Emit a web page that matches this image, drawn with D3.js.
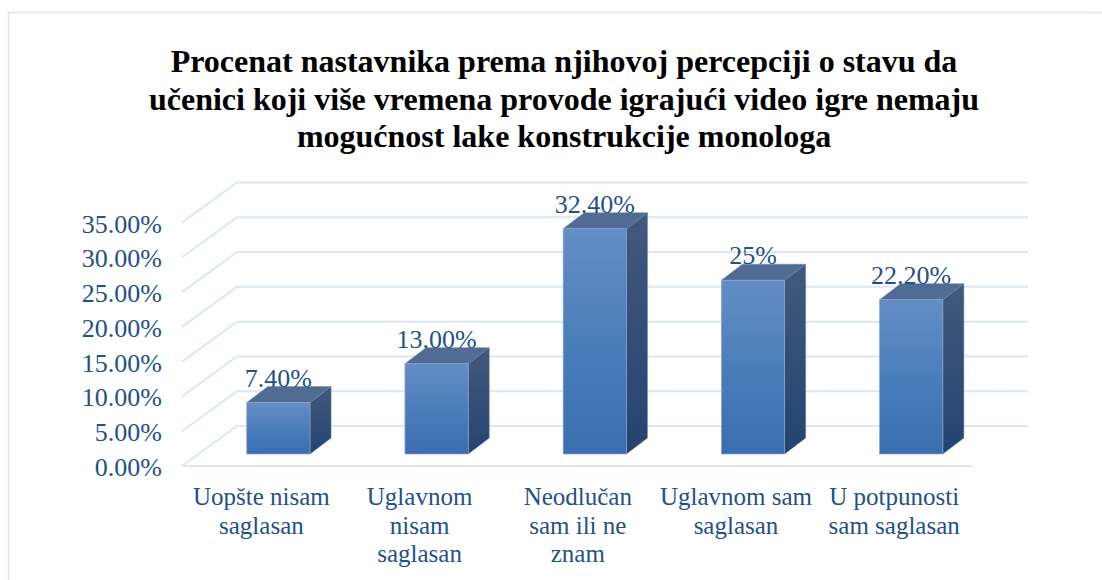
<!DOCTYPE html>
<html><head><meta charset="utf-8">
<script src="https://cdnjs.cloudflare.com/ajax/libs/d3/7.8.5/d3.min.js"></script>
<style>html,body{margin:0;padding:0;background:#fff;overflow:hidden}</style></head>
<body><svg id="c" width="1102" height="580" style="display:block"></svg>
<script>
const titleLines = ["Procenat nastavnika prema njihovoj percepciji o stavu da","učenici koji više vremena provode igrajući video igre nemaju","mogućnost lake konstrukcije monologa"];
const categories = ["Uopšte nisam saglasan","Uglavnom nisam saglasan","Neodlučan sam ili ne znam","Uglavnom sam saglasan","U potpunosti sam saglasan"];
const categoryLines = [["Uopšte nisam","saglasan"],["Uglavnom","nisam","saglasan"],["Neodlučan","sam ili ne","znam"],["Uglavnom sam","saglasan"],["U potpunosti","sam saglasan"]];
const values = [7.4,13,32.4,25,22.2];
const valueLabels = ["7.40%","13.00%","32.40%","25%","22.20%"];
const ticks = [0,5,10,15,20,25,30,35];
const FONT='"Liberation Serif",serif', BLUE='#24508a', GRID='#dce6f4';
const svg=d3.select('#c');
const defs=svg.append('defs');
function grad(id,stops){const g=defs.append('linearGradient').attr('id',id).attr('x1',0).attr('y1',0).attr('x2',0).attr('y2',1);
 stops.forEach(s=>g.append('stop').attr('offset',s[0]).attr('stop-color',s[1]));}
grad('front',[[0,'#658dc6'],[0.5,'#4a7ebb'],[1,'#3a6eb0']]);
grad('side',[[0,'#42597c'],[1,'#234470']]);
// frame
svg.append('path').attr('d','M8.5,580V12.5H1102').attr('fill','none').attr('stroke',GRID).attr('stroke-width',1.5);
// title
svg.append('g').selectAll('text').data(titleLines).join('text')
 .attr('x',564).attr('y',(d,i)=>72+i*37.5).attr('text-anchor','middle')
 .attr('font-family',FONT).attr('font-weight','bold').attr('font-size',32).attr('fill','#000').text(d=>d);
// scales
const gridY=d3.scaleLinear().domain([0,35]).range([466,222.5]);
const barY=d3.scaleLinear().domain([0,35]).range([454,210.7]);
const x=d3.scaleBand().domain(categories).range([199.3,990.3]).paddingInner(0.6).paddingOuter(0.3);
const DX=55,DY=-40,dx=21,dy=-16,FX0=182,FX1=973;
// gridlines
const g=svg.append('g').attr('fill','none').attr('stroke',GRID).attr('stroke-width',2);
ticks.forEach(t=>{const y=gridY(t);
 g.append('path').attr('d',`M${FX0},${y}L${FX0+DX},${y+DY}H${FX1+DX}`);});
g.append('path').attr('d',`M${FX0},${gridY(0)}H${FX1}`);
// y labels via axis
const ax=svg.append('g').attr('transform','translate(162,1.2)').call(d3.axisLeft(gridY).tickValues(ticks).tickSize(0).tickPadding(0).tickFormat(d=>d3.format('.2f')(d)+'%'));
ax.select('.domain').remove();
ax.selectAll('text').attr('font-family',FONT).attr('font-size',26).attr('fill',BLUE);
// bars
const b=svg.append('g').selectAll('g').data(categories).join('g');
const L=(c)=>x(c),R=(c)=>x(c)+x.bandwidth(),base=barY(0);
const topY=(i)=>barY(values[i]);
b.append('path').attr('d',(c,i)=>`M${R(c)},${base}V${topY(i)}l${dx},${dy}V${base+dy}Z`).attr('fill','url(#side)').attr('stroke','#5d7ca6').attr('stroke-width',.5);
b.append('path').attr('d',(c,i)=>`M${L(c)},${topY(i)}H${R(c)}l${dx},${dy}H${L(c)+dx}Z`).attr('fill','#506c93').attr('stroke','#6a86ad').attr('stroke-width',.5);
b.append('rect').attr('x',L).attr('y',(c,i)=>topY(i)).attr('width',x.bandwidth()).attr('height',(c,i)=>base-topY(i)).attr('fill','url(#front)').attr('stroke','#88a6d0').attr('stroke-width',.7);
// value labels
svg.append('g').selectAll('text').data(categories).join('text')
 .attr('x',c=>x(c)+x.bandwidth()/2).attr('y',(c,i)=>topY(i)-16)
 .attr('text-anchor','middle').attr('font-family',FONT).attr('font-size',26).attr('fill',BLUE).text((c,i)=>valueLabels[i]);
// category labels
const cl=svg.append('g').selectAll('text').data(categories).join('text')
 .attr('text-anchor','middle').attr('font-family',FONT).attr('font-size',25).attr('fill',BLUE);
cl.selectAll('tspan').data((c,i)=>categoryLines[i].map(t=>({t,c}))).join('tspan')
 .attr('x',d=>x(d.c)+x.bandwidth()/2-17).attr('y',(d,i)=>505+i*28.5).text(d=>d.t);
</script></body></html>
